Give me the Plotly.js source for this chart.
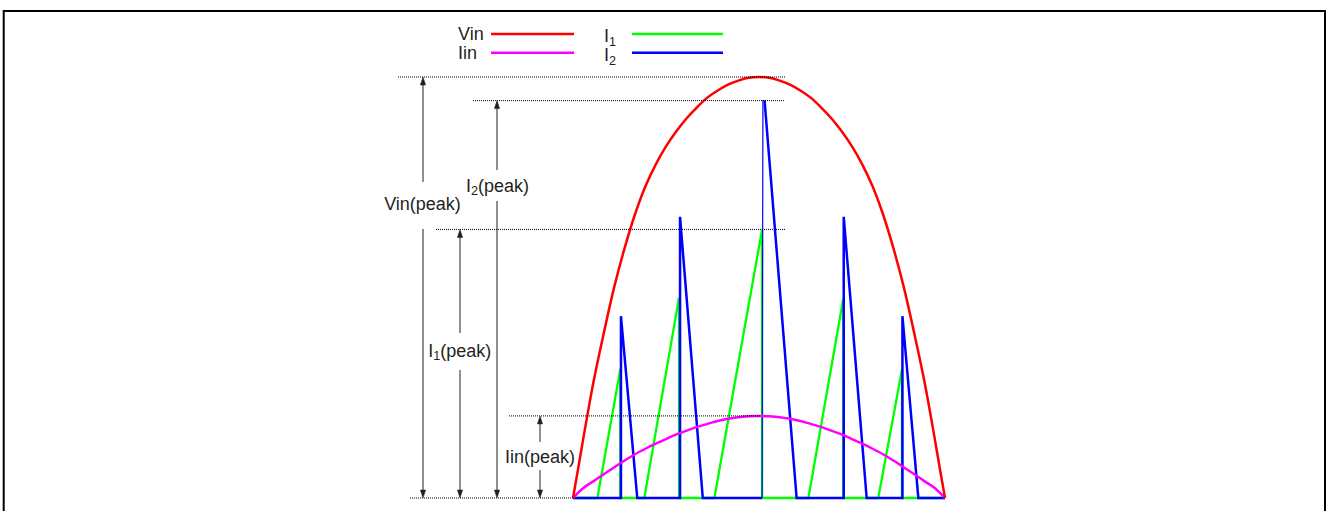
<!DOCTYPE html>
<html><head><meta charset="utf-8">
<script src="https://cdn.plot.ly/plotly-3.0.1.min.js"></script>
<style>html,body{margin:0;padding:0;background:#fff;} #chart{width:1327px;height:511px;}</style>
</head><body><div id="chart"></div>
<script>
// ---------- DATA ----------
// time axis in electrical degrees of a half line cycle (0..180)
const vinT = [0, 2.5, 5, 10, 15, 20, 25, 30, 35, 40, 45, 50, 55, 60, 65, 70, 75, 80, 85, 90,
              95, 100, 105, 110, 115, 120, 125, 130, 135, 140, 145, 150, 155, 160, 165, 170, 175, 177.5, 180];
const vinV = [0, 7.0, 14.2, 27.8, 39.4, 50.2, 59.4, 67.4, 74.0, 79.2, 83.5, 87.1, 90.2, 92.8, 95.1, 96.8, 98.2, 99.15, 99.8, 100,
              99.8, 99.15, 98.2, 96.8, 95.1, 92.8, 90.2, 87.1, 83.5, 79.2, 74.0, 67.4, 59.4, 50.2, 39.4, 27.8, 14.2, 7.0, 0];

const iinT = [0, 5, 10, 15, 20, 25, 30, 35, 40, 45, 50, 55, 60, 65, 70, 75, 80, 85, 90,
              95, 100, 105, 110, 115, 120, 125, 130, 135, 140, 145, 150, 155, 160, 165, 170, 175, 180];
const iinV = [0, 2.4, 4.0, 5.7, 7.3, 8.9, 10.4, 11.7, 12.9, 14.0, 15.1, 16.0, 16.9, 17.6, 18.3, 18.8, 19.2, 19.4, 19.5,
              19.4, 19.2, 18.8, 18.3, 17.6, 16.9, 16.0, 15.1, 14.0, 12.9, 11.7, 10.4, 8.9, 7.3, 5.7, 4.0, 2.4, 0];

const i1T = [0, 11.8, 22.9, 22.9, 34.5, 51.3, 51.3, 68.4, 91.5, 91.5, 113.9, 130.8, 130.8, 147.7, 159.2, 159.2, 180];
const i1V = [0, 0, 30.6, 0, 0, 47.6, 0, 0, 63.8, 0, 0, 47.4, 0, 0, 30.6, 0, 0];

const i2T = [0, 23.2, 23.2, 31.1, 51.8, 51.8, 62.8, 91.5, null, 92.7, 108.2, 131.0, 131.0, 142.1, 159.4, 159.4, 167.1, 180];
const i2V = [0, 0, 43.2, 0, 0, 66.8, 0, 0, null, 94.4, 0, 0, 66.8, 0, 0, 43.2, 0, 0];
// thin rising edge of the centre I2 pulse
const i2EdgeT = [91.5, 91.9, 92.7];
const i2EdgeV = [0, 94.4, 94.4];

const seriesNames = ['Vin', 'Iin', 'I<sub>1</sub>', 'I<sub>2</sub>'];
const seriesColors = ['#ff0000', '#ff00ff', '#00ff00', '#0000ff'];
const peakNames = ['Vin(peak)', 'I<sub>2</sub>(peak)', 'I<sub>1</sub>(peak)', 'Iin(peak)'];
const peakValues = [100, 94.4, 63.8, 19.5];

// ---------- LAYOUT HELPERS ----------
const W = 1327, H = 511;
const X_ORIGIN = 573, PX_PER_DEG = 372 / 180, Y_BASE = 498, PX_PER_UNIT = 4.21;
const X = px => (px - X_ORIGIN) / PX_PER_DEG;
const Y = py => (Y_BASE - py) / PX_PER_UNIT;
const DX = dpx => dpx / PX_PER_DEG;     // pixel length -> x data length
const DY = dpx => dpx / PX_PER_UNIT;    // pixel length -> y data length
const PXp = px => px / W;
const PYp = py => 1 - py / H;
const TXT = '#231f20';
const FONT = 'Liberation Sans, Arial, Helvetica, sans-serif';
const FS = 18;

const traces = [
  {x: i1T, y: i1V, mode: 'lines', line: {color: seriesColors[2], width: 2.3}},
  {x: i2T, y: i2V, mode: 'lines', connectgaps: false, line: {color: seriesColors[3], width: 2.5}},
  {x: i2EdgeT, y: i2EdgeV, mode: 'lines', line: {color: seriesColors[3], width: 1.2}},
  {x: iinT, y: iinV, mode: 'lines', line: {color: seriesColors[1], width: 2.5, shape: 'spline', smoothing: 1}},
  {x: vinT, y: vinV, mode: 'lines', line: {color: seriesColors[0], width: 2.5, shape: 'spline', smoothing: 1}}
];

const shapes = [];

// outer frame
shapes.push({type: 'rect', xref: 'paper', yref: 'paper', x0: PXp(3.7), x1: PXp(1325), y0: -0.05, y1: PYp(11),
  line: {color: '#000', width: 2}, fillcolor: 'rgba(0,0,0,0)'});

// dotted reference lines (y from data)
const dotted = [
  {v: peakValues[0], x0: 398, x1: 785},
  {v: peakValues[1], x0: 473, x1: 785},
  {v: peakValues[2], x0: 436, x1: 785},
  {v: peakValues[3], x0: 509, x1: 760},
  {v: 0, x0: 410, x1: 573}
];
dotted.forEach(d => shapes.push({type: 'line', xref: 'paper', yref: 'y', x0: PXp(d.x0), x1: PXp(d.x1), y0: d.v, y1: d.v,
  line: {color: '#000', width: 1, dash: '1px,1px'}}));

// dimension arrows with labels
const dims = [
  {px: 423, gapTop: 182, gapBot: 229, lx: 422.5, ly: 205},
  {px: 497, gapTop: 170, gapBot: 201, lx: 497.5, ly: 187},
  {px: 460, gapTop: 333, gapBot: 370, lx: 459.7, ly: 352},
  {px: 540, gapTop: 442, gapBot: 470, lx: 540, ly: 458}
];
const HEAD_HW = 2.6, HEAD_LEN = 8;
const lineStyle = {color: TXT, width: 1};
dims.forEach((d, i) => {
  const xd = X(d.px), top = peakValues[i], bot = 0;
  const hw = DX(HEAD_HW), hl = DY(HEAD_LEN);
  shapes.push({type: 'line', xref: 'x', yref: 'y', x0: xd, x1: xd, y0: top - hl * 0.6, y1: Y(d.gapTop), line: lineStyle});
  shapes.push({type: 'line', xref: 'x', yref: 'y', x0: xd, x1: xd, y0: bot + hl * 0.6, y1: Y(d.gapBot), line: lineStyle});
  shapes.push({type: 'path', xref: 'x', yref: 'y', fillcolor: TXT, line: {color: TXT, width: 0.5},
    path: `M${xd},${top} L${xd - hw},${top - hl} L${xd + hw},${top - hl} Z`});
  shapes.push({type: 'path', xref: 'x', yref: 'y', fillcolor: TXT, line: {color: TXT, width: 0.5},
    path: `M${xd},${bot} L${xd - hw},${bot + hl} L${xd + hw},${bot + hl} Z`});
});

// peak labels as a text trace
traces.push({x: dims.map(d => X(d.lx)), y: dims.map(d => Y(d.ly)), text: peakNames, mode: 'text',
  textposition: 'middle center', textfont: {family: FONT, size: FS, color: TXT}});

// manual legend
const legendPos = [
  {tx: 457, ty: 33, lx0: 491, lx1: 574, ly: 34},
  {tx: 457, ty: 52, lx0: 491, lx1: 574, ly: 52.7},
  {tx: 603, ty: 35.5, lx0: 632, lx1: 723, ly: 34},
  {tx: 603, ty: 54.5, lx0: 632, lx1: 723, ly: 52.7}
];
legendPos.forEach((p, i) => {
  shapes.push({type: 'line', xref: 'paper', yref: 'paper', x0: PXp(p.lx0), x1: PXp(p.lx1), y0: PYp(p.ly), y1: PYp(p.ly),
    line: {color: seriesColors[i], width: 2.5}});
});
traces.push({x: legendPos.map(p => X(p.tx + 1)), y: legendPos.map(p => Y(p.ty + 2)), text: seriesNames, mode: 'text',
  textposition: 'middle right', textfont: {family: FONT, size: FS, color: TXT}, cliponaxis: false});

traces.forEach(t => Object.assign(t, {showlegend: false, hoverinfo: 'skip'}));

const layout = {
  width: W, height: H, autosize: false,
  margin: {l: 0, r: 0, t: 0, b: 0, pad: 0},
  paper_bgcolor: '#fff', plot_bgcolor: '#fff',
  xaxis: {range: [X(0), X(W)], visible: false, fixedrange: true},
  yaxis: {range: [Y(H), Y(0)], visible: false, fixedrange: true},
  shapes: shapes, showlegend: false
};

Plotly.newPlot('chart', traces, layout, {displayModeBar: false, staticPlot: true});
</script></body></html>
